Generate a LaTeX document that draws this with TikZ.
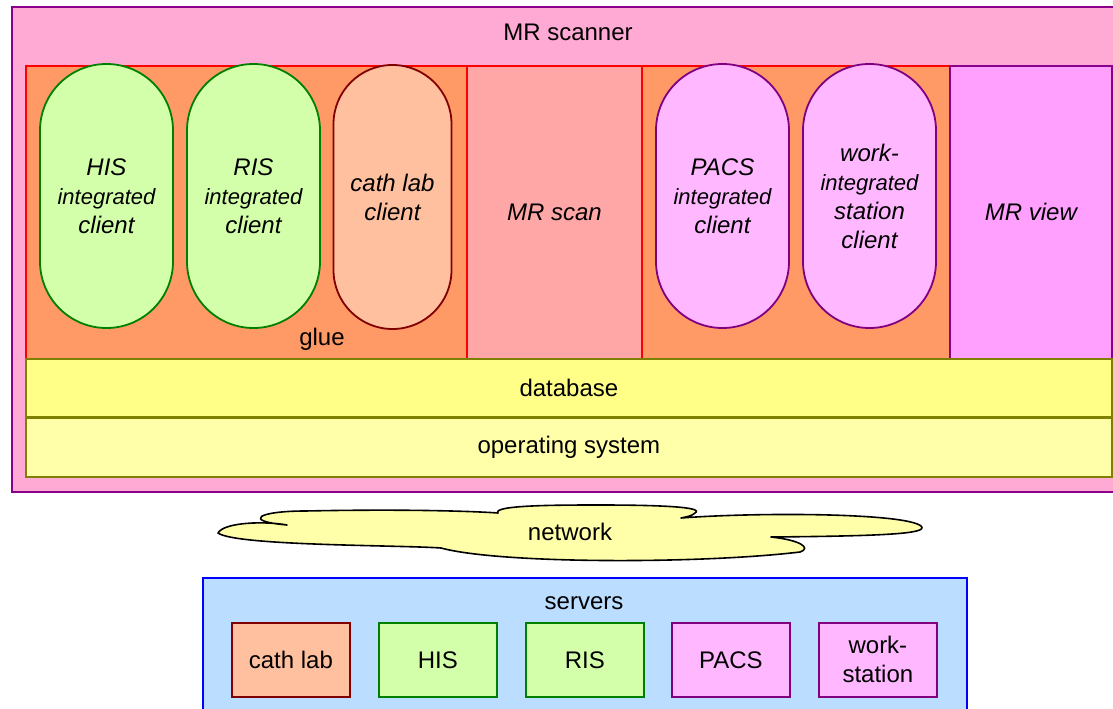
\documentclass[tikz,border=0pt]{standalone}
\usepackage{fontspec}
\setmainfont{Liberation Sans}
\definecolor{scannerfill}{HTML}{FFAAD4}
\definecolor{scannerline}{HTML}{8B008B}
\definecolor{gluefill}{HTML}{FF9966}
\definecolor{scanfill}{HTML}{FFA6A6}
\definecolor{viewfill}{HTML}{FFA0FF}
\definecolor{greenfill}{HTML}{D4FFAA}
\definecolor{greenline}{HTML}{008000}
\definecolor{cathfill}{HTML}{FFC0A0}
\definecolor{cathline}{HTML}{800000}
\definecolor{pacsfill}{HTML}{FFB8FF}
\definecolor{pacsline}{HTML}{800080}
\definecolor{dbfill}{HTML}{FFFF88}
\definecolor{osfill}{HTML}{FFFFAA}
\definecolor{olive}{HTML}{808000}
\definecolor{serverfill}{HTML}{BBDDFF}
\newcommand\myfs{\fontsize{24}{29}\selectfont}
\newcommand\mysm{\fontsize{22}{29}\selectfont}
\begin{document}
\begin{tikzpicture}[x=1pt,y=-1pt,
  box/.style={draw, line width=1.8pt, anchor=north west, inner sep=0pt, rectangle},
  pill/.style={draw, line width=1.8pt, rectangle, inner sep=0pt, align=center,
    font=\myfs\itshape, minimum height=264pt},
  txt/.style={font=\myfs, inner sep=0pt, align=center}]
\useasboundingbox (0,0) rectangle (1113,709);
\clip (0,0) rectangle (1113,709);
% MR scanner
\node[box, fill=scannerfill, draw=scannerline, minimum width=1120pt, minimum height=485pt] (scanner) at (11,6) {};
\node[txt] (scannerlbl) at (568,32) {MR scanner};
% middle layer
\node[box, fill=gluefill, draw=red, minimum width=441pt, minimum height=293pt] (glue1) at (25,65) {};
\node[box, fill=scanfill, draw=red, minimum width=175pt, minimum height=293pt, font=\myfs\itshape] (mrscan) at (466,65) {MR scan};
\node[box, fill=gluefill, draw=red, minimum width=308pt, minimum height=293pt] (glue2) at (641,65) {};
\node[box, fill=viewfill, draw=scannerline, minimum width=162pt, minimum height=293pt, font=\myfs\itshape] (mrview) at (949,65) {MR view};
\node[txt] (gluelbl) at (322,339) {glue};
% pills
\node[pill, fill=greenfill, draw=greenline, minimum width=133pt, rounded corners=66.5pt] (hisc) at (106.5,196) {HIS\\{\mysm integrated}\\client};
\node[pill, fill=greenfill, draw=greenline, minimum width=133pt, rounded corners=66.5pt] (risc) at (253.5,196) {RIS\\{\mysm integrated}\\client};
\node[pill, fill=cathfill, draw=cathline, minimum width=118pt, rounded corners=59pt] (cathc) at (392.5,197) {cath lab\\client};
\node[pill, fill=pacsfill, draw=pacsline, minimum width=133pt, rounded corners=66.5pt] (pacsc) at (722.5,196) {PACS\\{\mysm integrated}\\client};
\node[pill, fill=pacsfill, draw=pacsline, minimum width=133pt, rounded corners=66.5pt] (wsc) at (869.5,196) {work-\\{\mysm integrated}\\station\\client};
% database and OS
\node[box, fill=dbfill, draw=olive, minimum width=1086pt, minimum height=58pt, font=\myfs] (db) at (25,358) {database};
\node[box, fill=osfill, draw=olive, minimum width=1086pt, minimum height=59pt, font=\myfs] (os) at (25,417) {operating system};
% network cloud
\draw[line width=1.6pt, fill=osfill, line join=round] (218,533)
  .. controls (224,522) and (266,521) .. (287,525)
  .. controls (242,521) and (258,511) .. (305,511)
  .. controls (400,509) and (470,511) .. (498,513)
  .. controls (492,505) and (560,505) .. (600,505)
  .. controls (660,505) and (705,507) .. (695,513)
  .. controls (692,516) and (686,517) .. (681,518)
  .. controls (760,512) and (905,513) .. (921,526)
  .. controls (930,534) and (880,536) .. (771,537)
  .. controls (800,540) and (812,548) .. (800,552)
  .. controls (700,564) and (500,564) .. (441,548)
  .. controls (400,545) and (236,546) .. (218,533) -- cycle;
\node[txt] (network) at (570,532) {network};
% servers
\node[box, fill=serverfill, draw=blue, minimum width=764pt, minimum height=150pt] (servers) at (202,577) {};
\node[txt] (serverslbl) at (584,603) {servers};
\node[box, fill=cathfill, draw=cathline, minimum width=118pt, minimum height=74pt, font=\myfs] (cath) at (231,622) {cath lab};
\node[box, fill=greenfill, draw=greenline, minimum width=118pt, minimum height=74pt, font=\myfs] (his) at (378,622) {HIS};
\node[box, fill=greenfill, draw=greenline, minimum width=118pt, minimum height=74pt, font=\myfs] (ris) at (525,622) {RIS};
\node[box, fill=pacsfill, draw=pacsline, minimum width=118pt, minimum height=74pt, font=\myfs] (pacs) at (671,622) {PACS};
\node[box, fill=pacsfill, draw=pacsline, minimum width=118pt, minimum height=74pt, font=\myfs, align=center] (ws) at (818,622) {work-\\station};
\end{tikzpicture}
\end{document}
